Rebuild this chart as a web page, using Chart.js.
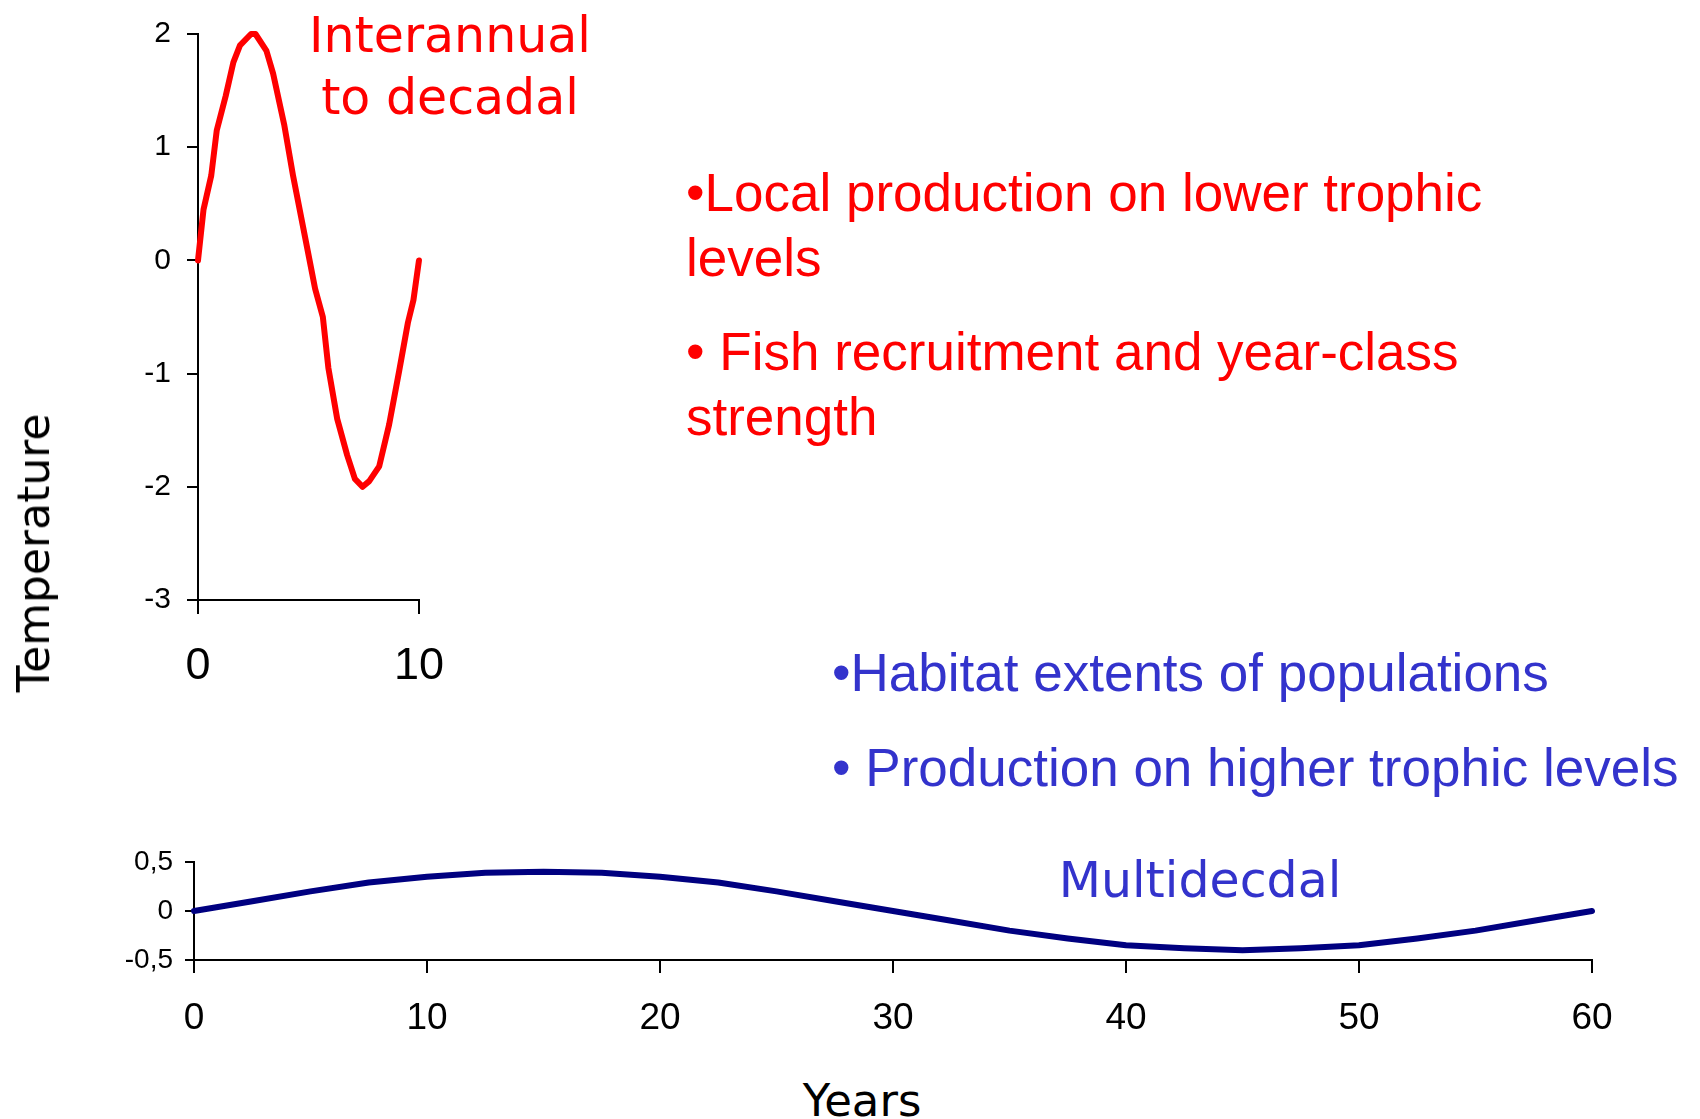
<!DOCTYPE html>
<html>
<head>
<meta charset="utf-8">
<script src="https://cdn.jsdelivr.net/npm/chart.js@4.4.0/dist/chart.umd.min.js"></script>
<style>
  body { margin: 0; width: 1700px; height: 1119px; background: #fff; position: relative; overflow: hidden; }
  canvas { position: absolute; }
  .txt { position: absolute; white-space: nowrap; }
  .arial { font-family: Arial, "Liberation Sans", sans-serif; font-size: 53px; line-height: 65px; }
  .comic { font-family: "Comic Sans MS", "DejaVu Sans", sans-serif; line-height: 1; transform: translate(-50%, -50%); }
  .red { color: #ff0000; }
  .blue { color: #3333cc; }
</style>
</head>
<body>
<canvas id="shortCycle" width="470" height="720" style="left:0; top:0;"></canvas>
<canvas id="longCycle" width="1700" height="240" style="left:0; top:830px;"></canvas>

<div class="txt comic red" style="left:450px; top:35px; font-size:49px;">Interannual</div>
<div class="txt comic red" style="left:450px; top:97px; font-size:49px;">to decadal</div>
<div class="txt arial red" style="left:686px; top:160px;">•Local production on lower trophic<br>levels</div>
<div class="txt arial red" style="left:686px; top:319px;">• Fish recruitment and year-class<br>strength</div>
<div class="txt arial blue" style="left:832px; top:640px;">•Habitat extents of populations</div>
<div class="txt arial blue" style="left:832px; top:735px;">• Production on higher trophic levels</div>
<div class="txt comic blue" style="left:1200px; top:880px; font-size:49px;">Multidecdal</div>
<div class="txt comic" style="left:34px; top:553px; font-size:44px; transform: translate(-50%, -50%) rotate(-90deg);">Temperature</div>
<div class="txt comic" style="left:862px; top:1100px; font-size:45px;">Years</div>

<script>
// interannual-to-decadal signal (years, temperature anomaly)
const shortYears = [0, 0.25, 0.6, 0.85, 1.25, 1.6, 1.9, 2.4, 2.6, 3.1, 3.4, 3.9, 4.3, 4.75, 5.05,
  5.3, 5.65, 5.9, 6.3, 6.75, 7.1, 7.45, 7.75, 8.2, 8.65, 9.1, 9.5, 9.75, 10];
const shortTemps = [0, 0.45, 0.75, 1.15, 1.45, 1.75, 1.9, 2.0, 2.0, 1.85, 1.65, 1.2, 0.75, 0.3, 0,
  -0.25, -0.5, -0.95, -1.4, -1.72, -1.93, -2.0, -1.95, -1.82, -1.45, -0.98, -0.55, -0.35, 0];

// multidecadal signal
const longYears = [0, 2.5, 5, 7.5, 10, 12.5, 15, 17.5, 20, 22.5, 25, 27.5, 30,
  32.5, 35, 37.5, 40, 42.5, 45, 47.5, 50, 52.5, 55, 57.5, 60];
const longTemps = [0, 0.1, 0.2, 0.29, 0.35, 0.39, 0.4, 0.39, 0.35, 0.29, 0.2, 0.1, 0,
  -0.1, -0.2, -0.28, -0.35, -0.38, -0.4, -0.38, -0.35, -0.28, -0.2, -0.1, 0];

const ARIAL = 'Arial, "Liberation Sans", sans-serif';
Chart.defaults.font.family = ARIAL;
Chart.defaults.color = '#000';

function toPoints(xs, ys) {
    return xs.map((x, i) => ({ x: x, y: ys[i] }));
}

function axis(extra) {
    return Object.assign({
        grid: { drawOnChartArea: false, color: '#000', lineWidth: 2 },
        border: { color: '#000', width: 2 },
    }, extra);
}

function lineChart(canvas, points, color, cfg) {
    return new Chart(canvas, {
        type: 'line',
        data: {
            datasets: [{
                data: points,
                borderColor: color,
                borderWidth: 6,
                pointRadius: 0,
                tension: 0,
                clip: false,
                borderJoinStyle: 'round',
                borderCapStyle: 'round',
            }],
        },
        options: {
            responsive: false,
            animation: false,
            layout: { padding: cfg.padding },
            plugins: { legend: { display: false }, tooltip: { enabled: false } },
            scales: { x: cfg.x, y: cfg.y },
        },
    });
}

lineChart(document.getElementById('shortCycle'), toPoints(shortYears, shortTemps), '#ff0000', {
    padding: { top: 30, right: 51, left: 0, bottom: 0 },
    x: axis({
        type: 'linear', min: 0, max: 10,
        ticks: { stepSize: 10, font: { size: 45 }, padding: 26 },
        grid: { drawOnChartArea: false, color: '#000', lineWidth: 2, tickLength: 14 },
        afterFit: (s) => { s.height = 120; },
    }),
    y: axis({
        min: -3, max: 2,
        ticks: { stepSize: 1, font: { size: 30 }, padding: 16 },
        grid: { drawOnChartArea: false, color: '#000', lineWidth: 2, tickLength: 11 },
        afterFit: (s) => { s.width = 198; },
    }),
});

lineChart(document.getElementById('longCycle'), toPoints(longYears, longTemps), '#000080', {
    padding: { top: 32, right: 108, left: 0, bottom: 0 },
    x: axis({
        type: 'linear', min: 0, max: 60,
        ticks: { stepSize: 10, font: { size: 37 }, padding: 24 },
        grid: { drawOnChartArea: false, color: '#000', lineWidth: 2, tickLength: 13 },
        afterFit: (s) => { s.height = 110; },
    }),
    y: axis({
        min: -0.5, max: 0.5,
        ticks: {
            stepSize: 0.5, font: { size: 28 }, padding: 12,
            callback: (v) => String(v).replace('.', ','),
        },
        grid: { drawOnChartArea: false, color: '#000', lineWidth: 2, tickLength: 9 },
        afterFit: (s) => { s.width = 194; },
    }),
});
</script>
</body>
</html>
